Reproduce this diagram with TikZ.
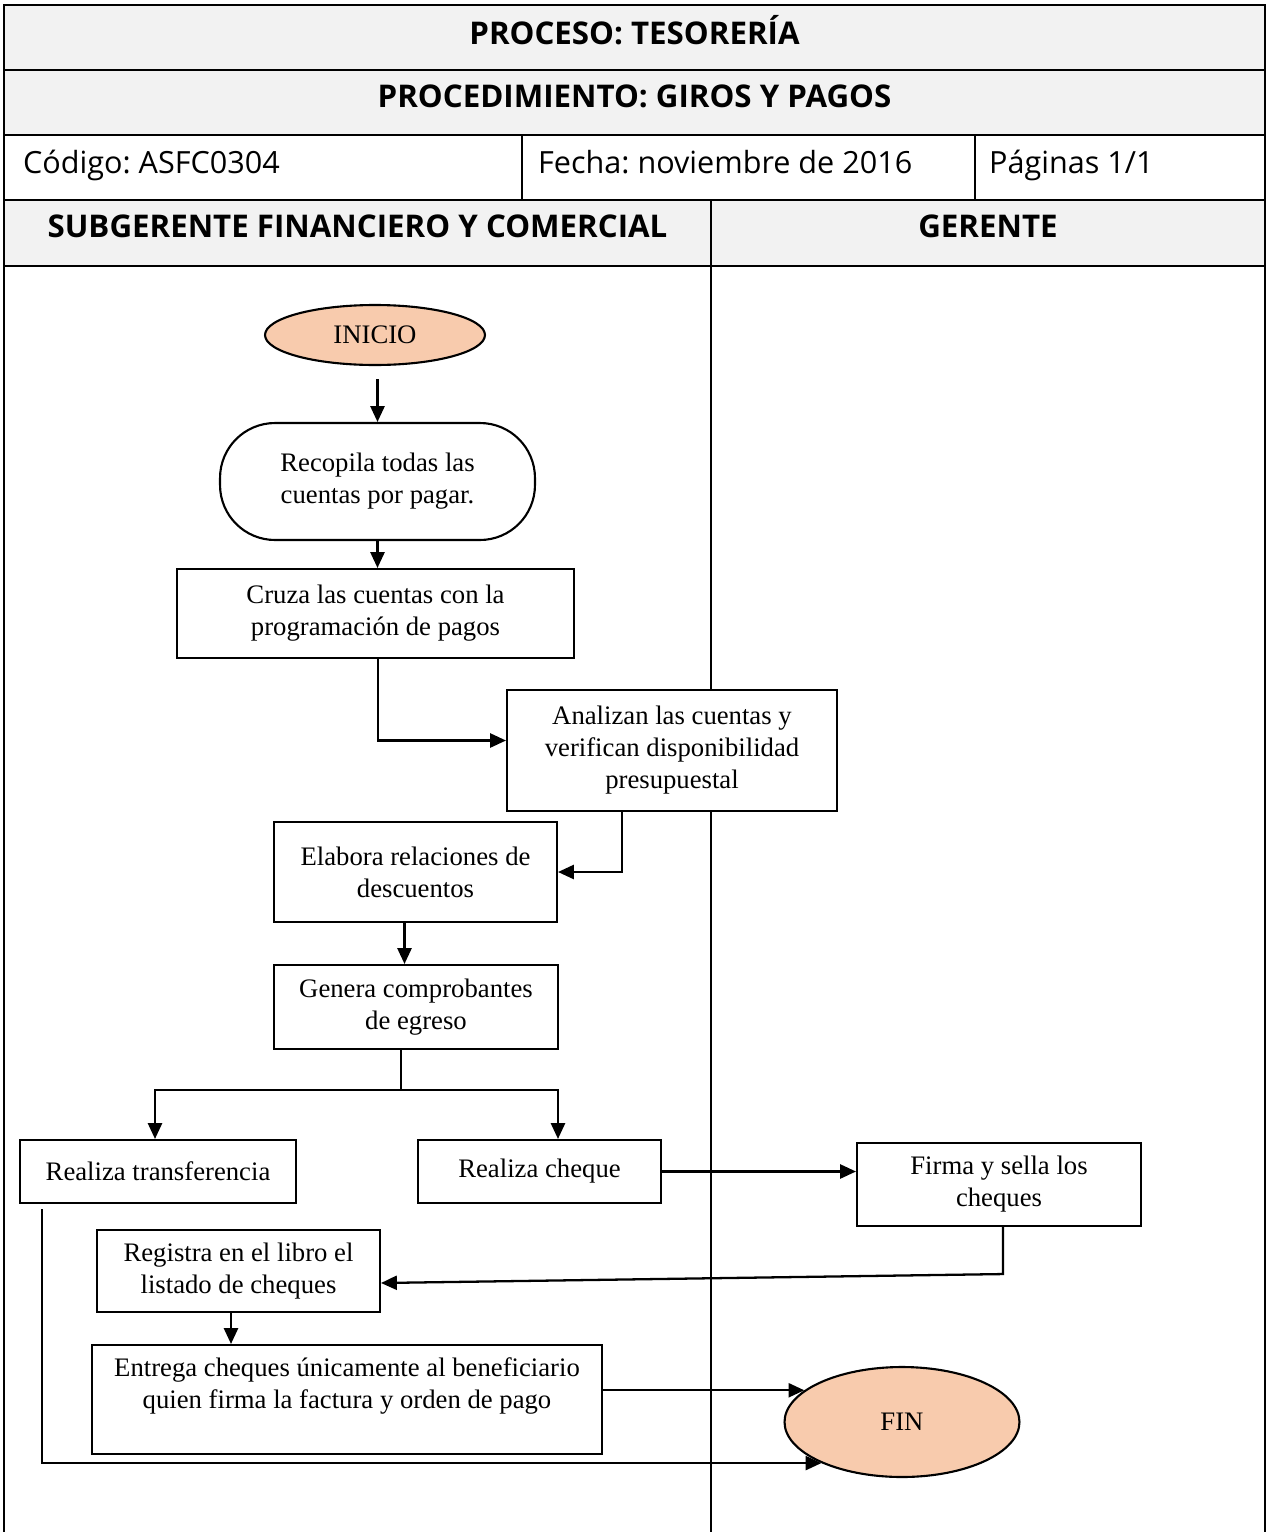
\documentclass[tikz,border=0pt]{standalone}
\usepackage{fontspec}
\setmainfont{Liberation Serif}
\newfontfamily\headfont{Open Sans}
\frenchspacing
\usepackage{xcolor}
\definecolor{headgray}{HTML}{F2F2F2}
\definecolor{termpeach}{HTML}{F8CBAD}
\usepackage{tikz}
\usetikzlibrary{positioning, arrows.meta, shapes.geometric}

\tikzset{
  proc/.style={draw, line width=1.2pt, fill=white, align=center,
    font=\fontsize{15.2}{18.2}\selectfont, inner sep=2pt},
  term/.style={ellipse, draw, line width=1.2pt, fill=termpeach,
    font=\fontsize{15.2}{18.2}\selectfont},
  flow/.style={line width=1.3pt, -{Triangle[length=9pt,width=8pt]}},
  head/.style={font=\headfont\bfseries\fontsize{17.8}{21}\selectfont},
  cell/.style={font=\headfont\fontsize{17.4}{21}\selectfont, anchor=base west}
}

\begin{document}
\begin{tikzpicture}[x=0.02cm, y=-0.02cm]
  \useasboundingbox (0,0) rectangle (1269,1532);

  % table header
  \fill[headgray] (4,5) rectangle (1265,135);
  \fill[headgray] (4,200) rectangle (1265,266);
  \draw[line width=0.8pt] (4,1532) -- (4,5) -- (1265,5) -- (1265,1532);
  \draw[line width=0.8pt] (4,70) -- (1265,70);
  \draw[line width=1.5pt] (4,135) -- (1265,135);
  \draw[line width=0.8pt] (4,200) -- (1265,200);
  \draw[line width=1.5pt] (4,266) -- (1265,266);
  \foreach \x in {522,975} {
    \draw[line width=0.8pt] (\x,135) -- (\x,200);
  }
  \draw[line width=0.8pt] (711,200) -- (711,1532);

  \node[head] (proceso) at (634.5,30) {PROCESO: TESORERÍA};
  \node[head] (procedimiento) at (634.5,96) {PROCEDIMIENTO: GIROS Y PAGOS};
  \node[cell] (codigo) at (17,173) {Código: ASFC0304};
  \node[cell] (fecha) at (532,173) {Fecha: noviembre de 2016};
  \node[cell] (paginas) at (983,173) {Páginas 1/1};
  \node[head] (lanesub) at (357.5,226) {SUBGERENTE FINANCIERO Y COMERCIAL};
  \node[head] (lanegerente) at (988,226) {GERENTE};

  % flow
  \node[term, minimum width=4.4cm, minimum height=1.2cm] (inicio) at (375,335) {INICIO};
  \node[proc, rounded corners=1.1cm, minimum width=6.3cm, minimum height=2.34cm]
    (recopila) at (377.5,481.5) {Recopila todas las\\cuentas por pagar.};
  \node[proc, minimum width=7.94cm, minimum height=1.78cm]
    (cruza) at (375.5,613.5) {Cruza las cuentas con la\\programación de pagos};
  \node[proc, minimum width=6.6cm, minimum height=2.42cm]
    (analizan) at (672,750.5) {Analizan las cuentas y\\verifican disponibilidad\\presupuestal};
  \node[proc, minimum width=5.66cm, minimum height=2cm]
    (elabora) at (415.5,872) {Elabora relaciones de\\descuentos};
  \node[proc, minimum width=5.68cm, minimum height=1.68cm]
    (genera) at (416,1007) {Genera comprobantes\\de egreso};
  \node[proc, minimum width=5.52cm, minimum height=1.26cm]
    (transf) at (158,1171.5) {Realiza transferencia};
  \node[proc, minimum width=4.86cm, minimum height=1.26cm]
    (cheque) at (539.5,1171.5) {Realiza cheque};
  \node[proc, minimum width=5.68cm, minimum height=1.66cm]
    (firma) at (999,1184.5) {Firma y sella los\\cheques};
  \node[proc, minimum width=5.66cm, minimum height=1.64cm]
    (registra) at (238.5,1271) {Registra en el libro el\\listado de cheques};
  \node[proc, minimum width=10.2cm, minimum height=2.18cm] (entrega) at (347,1399.5) {};
  \node[align=center, font=\fontsize{15.2}{18.2}\selectfont] (entregatxt) at (347,1386)
    {Entrega cheques únicamente al beneficiario\\quien firma la factura y orden de pago};
  \node[term, minimum width=4.7cm, minimum height=2.2cm] (fin) at (902,1422) {FIN};

  \coordinate (split) at (401,1090);

  \draw[flow, shorten <=0.26cm] (recopila.north |- inicio.south) -- (recopila.north);
  \draw[flow] (recopila.south) -- (recopila.south |- cruza.north);
  \draw[flow] ([xshift=0.05cm]cruza.south) |- ([yshift=0.2cm]analizan.west);
  \draw[flow] ([xshift=-1cm]analizan.south) |- (elabora.east);
  \draw[flow] ([xshift=-0.22cm]elabora.south) -- ([xshift=-0.22cm]elabora.south |- genera.north);
  \draw[line width=1.3pt] (genera.south -| split) -- (split);
  \draw[flow] (split) -| ([xshift=-0.06cm]transf.north);
  \draw[flow] (split) -| ([xshift=0.37cm]cheque.north);
  \draw[flow] (cheque.east) -- (cheque.east -| firma.west);
  \draw[flow] ([xshift=0.08cm]firma.south) -- ++(0,47) -- ([yshift=-0.24cm]registra.east);
  \draw[flow] ([xshift=-0.15cm]registra.south) -- ([xshift=-0.15cm]registra.south |- entrega.north);
  \draw[flow] (entrega.east |- fin.162) -- (fin.162);
  \draw[flow] ([xshift=-2.32cm, yshift=-0.1cm]transf.south) |- (fin.207);
\end{tikzpicture}
\end{document}
